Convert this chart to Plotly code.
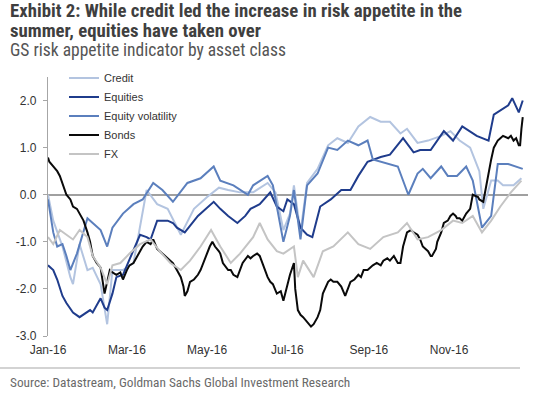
import plotly.graph_objects as go

# ---------------- data ----------------
credit_dates = ["2016-01-01","2016-01-05","2016-01-12","2016-01-18","2016-01-20","2016-01-25","2016-01-31",
                "2016-02-04","2016-02-10","2016-02-15","2016-02-19","2016-02-27","2016-03-06","2016-03-13",
                "2016-03-16","2016-03-24","2016-04-01","2016-04-11","2016-04-21","2016-05-01","2016-05-10",
                "2016-05-17","2016-05-26","2016-06-05","2016-06-16","2016-06-22","2016-06-28","2016-07-03",
                "2016-07-06","2016-07-11","2016-07-16","2016-07-24","2016-08-01","2016-08-08","2016-08-16",
                "2016-08-24","2016-09-02","2016-09-10","2016-09-17","2016-09-25","2016-09-30","2016-10-08",
                "2016-10-16","2016-10-26","2016-11-02","2016-11-09","2016-11-17","2016-11-24","2016-11-27",
                "2016-12-03","2016-12-08","2016-12-12","2016-12-20","2016-12-26"]
credit_vals = [0.0,-0.55,-1.1,-1.75,-1.9,-1.05,-1.6,
               -1.55,-1.9,-2.75,-1.6,-1.6,-1.45,-0.35,
               0.1,-0.2,-0.3,-0.85,-0.3,-0.05,0.15,
               0.1,0.05,0.05,0.25,0.05,-0.75,-0.4,
               0.2,-0.8,0.25,0.55,1.05,1.2,1.1,
               1.45,1.65,1.55,1.55,1.3,1.4,1.1,
               1.15,1.25,1.35,1.15,1.0,0.5,-0.3,
               0.3,0.3,0.2,0.2,0.35]

equities_dates = ["2016-01-01","2016-01-05","2016-01-08","2016-01-12","2016-01-15","2016-01-20","2016-01-25",
                  "2016-01-28","2016-02-02","2016-02-04","2016-02-10","2016-02-13","2016-02-15","2016-02-19",
                  "2016-02-22","2016-02-27","2016-03-01","2016-03-06","2016-03-11","2016-03-16","2016-03-19",
                  "2016-03-24","2016-03-28","2016-04-01","2016-04-05","2016-04-08","2016-04-14","2016-04-18",
                  "2016-04-24","2016-04-28","2016-05-06","2016-05-11","2016-05-17","2016-05-24","2016-05-30",
                  "2016-06-03","2016-06-10","2016-06-18","2016-06-23","2016-06-28","2016-07-01","2016-07-06",
                  "2016-07-11","2016-07-16","2016-07-20","2016-07-26","2016-08-03","2016-08-11","2016-08-18",
                  "2016-08-24","2016-08-31","2016-09-10","2016-09-17","2016-09-27","2016-10-05","2016-10-10",
                  "2016-10-18","2016-10-28","2016-11-04","2016-11-11","2016-11-22","2016-12-01","2016-12-05",
                  "2016-12-16","2016-12-19","2016-12-24","2016-12-27"]
equities_vals = [-1.5,-1.6,-1.8,-2.15,-2.3,-2.5,-2.6,
                 -2.55,-2.45,-2.5,-2.2,-2.4,-2.45,-2.1,
                 -1.75,-1.7,-1.5,-1.2,-0.85,-0.9,-0.95,
                 -0.55,-0.55,-0.55,-0.6,-0.7,-0.8,-0.65,
                 -0.45,-0.35,-0.15,-0.3,-0.45,-0.6,-0.45,
                 -0.3,-0.2,0.05,-0.25,-0.35,-0.1,-0.2,
                 -0.7,-0.85,-0.9,-0.25,-0.1,0.1,0.1,
                 0.4,0.7,0.8,0.85,1.2,0.9,0.95,
                 0.95,1.35,1.15,1.45,1.25,1.15,1.7,
                 1.9,2.05,1.75,2.0]

eqvol_dates = ["2016-01-01","2016-01-05","2016-01-08","2016-01-12","2016-01-15","2016-01-18","2016-01-23",
               "2016-01-28","2016-01-31","2016-02-04","2016-02-10","2016-02-15","2016-02-19","2016-02-27",
               "2016-03-06","2016-03-13","2016-03-21","2016-03-28","2016-04-05","2016-04-16","2016-04-26",
               "2016-05-06","2016-05-11","2016-05-21","2016-06-01","2016-06-05","2016-06-16","2016-06-20",
               "2016-06-28","2016-07-03","2016-07-06","2016-07-11","2016-07-16","2016-07-24","2016-08-01",
               "2016-08-08","2016-08-16","2016-08-24","2016-08-31","2016-09-04","2016-09-10","2016-09-17",
               "2016-09-23","2016-10-01","2016-10-08","2016-10-12","2016-10-18","2016-10-26","2016-10-31",
               "2016-11-07","2016-11-14","2016-11-19","2016-11-26","2016-12-03","2016-12-08","2016-12-16",
               "2016-12-22","2016-12-27"]
eqvol_vals = [-0.1,-0.8,-1.1,-1.05,-1.3,-1.6,-1.25,
              -0.8,-0.5,-0.6,-0.75,-1.1,-0.7,-0.4,
              -0.2,-0.1,0.25,0.1,-0.15,0.25,0.35,
              0.6,0.3,0.2,0.0,0.2,0.4,0.2,
              -1.0,-0.45,0.1,-0.95,0.2,0.45,1.0,
              0.95,1.15,1.05,1.15,0.75,0.7,0.65,
              0.6,0.0,0.45,0.55,0.35,0.6,0.4,
              0.4,0.6,0.3,-0.7,-0.45,0.65,0.65,
              0.6,0.55]

bonds_dates = ["2016-01-01","2016-01-02","2016-01-05","2016-01-08","2016-01-10","2016-01-12","2016-01-15",
               "2016-01-18","2016-01-20","2016-01-23","2016-01-25","2016-01-28","2016-01-31","2016-02-02",
               "2016-02-04","2016-02-07","2016-02-10","2016-02-11","2016-02-13","2016-02-15","2016-02-17",
               "2016-02-19","2016-02-22","2016-02-25","2016-02-27","2016-03-01","2016-03-03","2016-03-06",
               "2016-03-09","2016-03-11","2016-03-13","2016-03-16","2016-03-19","2016-03-21","2016-03-24",
               "2016-03-26","2016-03-28","2016-04-01","2016-04-05","2016-04-08","2016-04-11","2016-04-13",
               "2016-04-14","2016-04-16","2016-04-18","2016-04-21","2016-04-24","2016-04-26","2016-04-28",
               "2016-05-01","2016-05-03","2016-05-05","2016-05-07","2016-05-10","2016-05-11","2016-05-13",
               "2016-05-17","2016-05-19","2016-05-21","2016-05-24","2016-05-26","2016-05-28","2016-06-01",
               "2016-06-03","2016-06-05","2016-06-08","2016-06-10","2016-06-12","2016-06-16","2016-06-18",
               "2016-06-20","2016-06-23","2016-06-26","2016-06-28","2016-07-01","2016-07-03","2016-07-06",
               "2016-07-07","2016-07-09","2016-07-11","2016-07-13","2016-07-16","2016-07-19","2016-07-21",
               "2016-07-24","2016-07-26","2016-07-28","2016-08-01","2016-08-03","2016-08-05","2016-08-08",
               "2016-08-11","2016-08-14","2016-08-16","2016-08-18","2016-08-21","2016-08-24","2016-08-26",
               "2016-08-28","2016-08-31","2016-09-02","2016-09-04","2016-09-07","2016-09-10","2016-09-12",
               "2016-09-15","2016-09-17","2016-09-20","2016-09-23","2016-09-25","2016-09-27","2016-09-30",
               "2016-10-03","2016-10-05","2016-10-08","2016-10-10","2016-10-12","2016-10-16","2016-10-18",
               "2016-10-19","2016-10-22","2016-10-23","2016-10-26","2016-10-28","2016-10-31","2016-11-02",
               "2016-11-04","2016-11-06","2016-11-07","2016-11-09","2016-11-11","2016-11-14","2016-11-17",
               "2016-11-19","2016-11-23","2016-11-24","2016-11-27","2016-11-28","2016-12-01","2016-12-03",
               "2016-12-05","2016-12-08","2016-12-10","2016-12-12","2016-12-16","2016-12-18","2016-12-20",
               "2016-12-22","2016-12-24","2016-12-25","2016-12-26","2016-12-27"]
bonds_vals = [0.79,0.7,0.6,0.5,0.4,0.25,0.0,
              -0.1,-0.25,-0.3,-0.4,-0.55,-0.8,-1.0,
              -1.3,-1.45,-1.55,-1.75,-2.1,-1.85,-1.6,
              -1.65,-1.7,-1.65,-1.8,-1.6,-1.5,-1.45,
              -1.3,-1.2,-1.1,-1.0,-1.05,-0.95,-1.15,
              -1.2,-1.25,-1.35,-1.45,-1.6,-1.75,-1.95,
              -2.15,-2.05,-1.85,-1.8,-1.7,-1.6,-1.45,
              -1.25,-1.1,-1.0,-1.1,-1.2,-1.25,-1.45,
              -1.6,-1.6,-1.7,-1.75,-1.6,-1.45,-1.3,
              -1.35,-1.3,-1.25,-1.3,-1.45,-1.75,-1.85,
              -1.9,-2.1,-2.05,-2.25,-1.9,-1.7,-1.45,
              -2.0,-2.45,-2.55,-2.6,-2.7,-2.8,-2.75,
              -2.6,-2.45,-2.1,-1.85,-1.8,-1.85,-1.85,
              -1.95,-2.15,-2.0,-1.85,-1.8,-1.7,-1.75,
              -1.6,-1.6,-1.55,-1.5,-1.45,-1.5,-1.4,
              -1.35,-1.4,-1.3,-1.45,-1.45,-1.1,-0.8,
              -0.75,-0.8,-0.85,-0.95,-1.1,-1.2,-1.3,
              -1.3,-1.15,-1.0,-0.8,-0.6,-0.55,-0.45,
              -0.4,-0.45,-0.5,-0.5,-0.55,-0.4,-0.3,
              0.0,-0.05,-0.1,-0.15,0.0,0.5,0.75,
              1.0,1.15,1.2,1.25,1.2,1.25,1.15,
              1.2,1.05,1.05,1.4,1.65]

fx_dates = ["2016-01-01","2016-01-05","2016-01-10","2016-01-15","2016-01-20","2016-01-25","2016-01-31",
            "2016-02-04","2016-02-10","2016-02-15","2016-02-19","2016-02-25","2016-03-03","2016-03-11",
            "2016-03-19","2016-03-26","2016-04-03","2016-04-11","2016-04-18","2016-04-26","2016-05-04",
            "2016-05-11","2016-05-19","2016-05-26","2016-06-05","2016-06-10","2016-06-16","2016-06-23",
            "2016-06-28","2016-07-06","2016-07-09","2016-07-13","2016-07-21","2016-07-28","2016-08-05",
            "2016-08-16","2016-08-24","2016-09-02","2016-09-12","2016-09-23","2016-09-30","2016-10-08",
            "2016-10-16","2016-10-26","2016-11-04","2016-11-11","2016-11-19","2016-11-26","2016-12-03",
            "2016-12-10","2016-12-18","2016-12-26"]
fx_vals = [-0.9,-1.05,-0.75,-0.85,-0.95,-0.75,-0.9,
           -1.3,-1.55,-1.9,-1.5,-1.45,-1.25,-1.05,
           -0.95,-1.2,-1.45,-1.6,-1.4,-1.1,-0.75,
           -1.1,-1.45,-1.25,-0.9,-0.6,-0.95,-1.2,
           -1.25,-1.1,-1.75,-1.4,-1.75,-1.2,-1.1,
           -0.8,-1.05,-1.15,-0.9,-0.8,-0.6,-0.95,
           -0.9,-0.75,-0.55,-0.6,-0.45,-0.8,-0.55,
           -0.25,0.05,0.3]

series_names = ["Credit", "Equities", "Equity volatility", "Bonds", "FX"]
series_colors = ["#b3c4e0", "#1f3c8c", "#5b7fbd", "#0a0a0a", "#c4c4c4"]

y_tickvals = [-3, -2, -1, 0, 1, 2]
y_ticktext = ["-3.0", "-2.0", "-1.0", "0.0", "1.0", "2.0"]
x_tickvals = ["2016-01-01", "2016-03-01", "2016-05-01", "2016-07-01", "2016-09-01", "2016-11-01"]
x_ticktext = ["Jan-16", "Mar-16", "May-16", "Jul-16", "Sep-16", "Nov-16"]

title_line1 = "Exhibit 2: While credit led the increase in risk appetite in the"
title_line2 = "summer, equities have taken over"
subtitle = "GS risk appetite indicator by asset class"
source = "Source: Datastream, Goldman Sachs Global Investment Research"

# ---------------- figure ----------------
fig = go.Figure()
all_series = [(credit_dates, credit_vals), (equities_dates, equities_vals),
              (eqvol_dates, eqvol_vals), (bonds_dates, bonds_vals), (fx_dates, fx_vals)]
for (d, v), name, col in zip(all_series, series_names, series_colors):
    fig.add_trace(go.Scatter(x=d, y=v, mode="lines", name=name,
                             line=dict(color=col, width=2)))

W, H = 560, 394
L, R, T, B = 48, 32, 77, 58
pw, ph = W - L - R, H - T - B

def px_x(p):
    return (p - L) / pw

def px_y(p):
    return (H - B - p) / ph

narrow = "Liberation Sans Narrow, Arial Narrow, Roboto Condensed, Liberation Sans, Arial, sans-serif"
reg = "Liberation Sans, Arial, sans-serif"

annotations = [
    dict(text="<b>" + title_line1 + "</b>", x=px_x(8), y=px_y(11.5), xanchor="left", yanchor="middle",
         font=dict(family=narrow, size=18.8, color="#3f3f3f")),
    dict(text="<b>" + title_line2 + "</b>", x=px_x(8), y=px_y(31), xanchor="left", yanchor="middle",
         font=dict(family=narrow, size=18.8, color="#3f3f3f")),
    dict(text=subtitle, x=px_x(8), y=px_y(49.5), xanchor="left", yanchor="middle",
         font=dict(family=narrow, size=17.5, color="#555555")),
    dict(text=source, x=px_x(8), y=px_y(382), xanchor="left", yanchor="middle",
         font=dict(family=narrow, size=13.3, color="#6a6a6a")),
]
for a in annotations:
    a.update(xref="paper", yref="paper", showarrow=False)

fig.update_layout(
    width=W, height=H,
    margin=dict(l=L, r=R, t=T, b=B, pad=0),
    paper_bgcolor="white", plot_bgcolor="white",
    font=dict(family=reg, size=12, color="#333333"),
    showlegend=True,
    legend=dict(x=px_x(64), y=px_y(63.5), xanchor="left", yanchor="top",
                bgcolor="rgba(0,0,0,0)", font=dict(family=reg, size=11, color="#333333"),
                tracegroupgap=0, itemwidth=30),
    annotations=annotations,
    shapes=[dict(type="line", xref="paper", yref="paper", x0=px_x(0), x1=px_x(520),
                 y0=px_y(368), y1=px_y(368), line=dict(color="#a8a8a8", width=1.2))],
    xaxis=dict(range=["2016-01-01", "2016-12-31"], showgrid=False, showline=False, zeroline=False,
               tickmode="array", tickvals=x_tickvals, ticktext=x_ticktext, ticks="",
               ticklabelstandoff=5, tickfont=dict(family=reg, size=12, color="#333333")),
    yaxis=dict(range=[-3, 2.5], showgrid=False, showline=True, linecolor="#a6a6a6", linewidth=1.2,
               zeroline=True, zerolinecolor="#a0a0a0", zerolinewidth=1.5,
               tickmode="array", tickvals=y_tickvals, ticktext=y_ticktext,
               ticks="outside", ticklen=4, tickcolor="#a6a6a6", ticklabelstandoff=4,
               tickfont=dict(family=reg, size=12, color="#333333")),
)

fig.write_html("out.html", config={"displayModeBar": False},
               post_script="document.body.style.margin='0';document.body.style.overflow='hidden';")
